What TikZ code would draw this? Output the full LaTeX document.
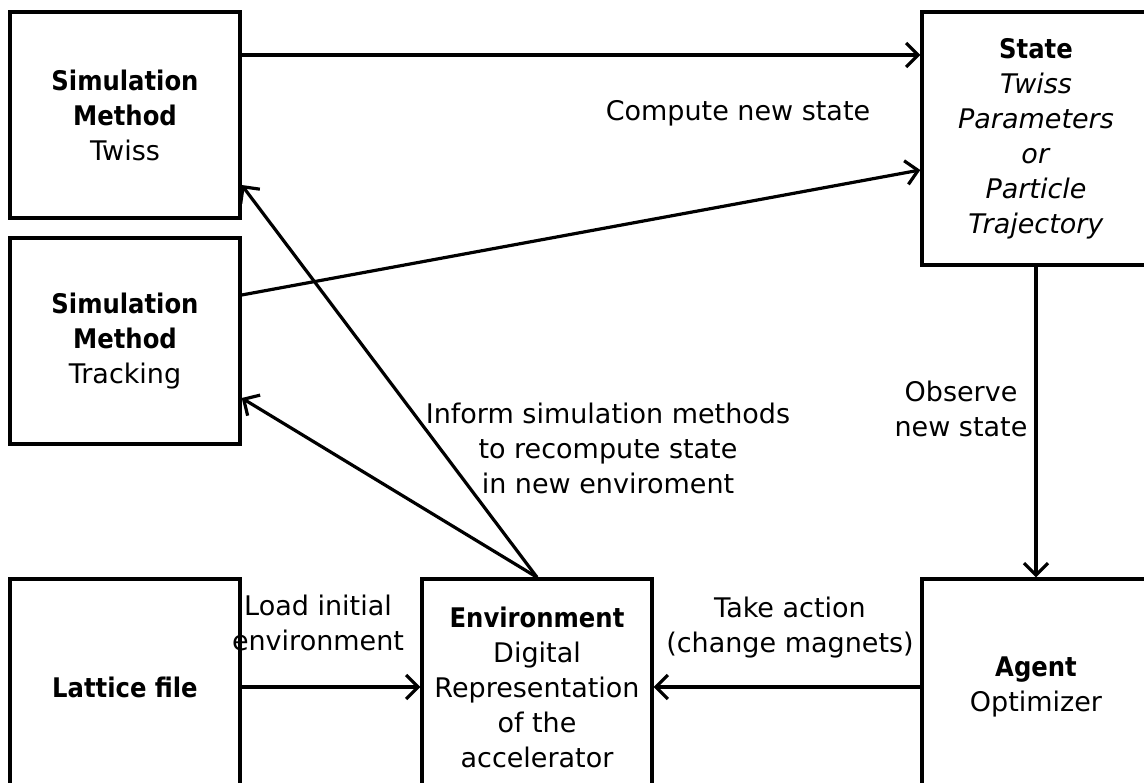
\documentclass[tikz,border=0pt]{standalone}
\usepackage{fontspec}
\setmainfont{DejaVu Sans}[BoldFont={DejaVu Sans Condensed Bold}]
\usetikzlibrary{arrows.meta}
\tikzset{
  block/.style={draw, line width=3.4pt, rectangle, align=center, inner sep=0pt},
  lbl/.style={align=center, inner sep=0pt},
  arr/.style={line width=3.2pt, -{Straight Barb[length=12pt,width=24pt,line width=3.2pt]}},
}
\begin{document}
\begin{tikzpicture}[x=1pt, y=-1pt, font=\fontsize{27}{35}\selectfont]
\useasboundingbox (0,0) rectangle (1144,783);
\fill[white] (0,0) rectangle (1144,783);

% boxes
\node[block, minimum width=230pt, minimum height=206pt] (twiss) at (125,115)
  {\textbf{Simulation}\\\textbf{Method}\\Twiss};
\node[block, minimum width=230pt, minimum height=206pt] (track) at (125,341)
  {\textbf{Simulation}\\\textbf{Method}\\Tracking};
\node[block, minimum width=228pt, minimum height=253pt] (state) at (1036,138.5)
  {\textbf{State}\\\textit{Twiss}\\\textit{Parameters}\\\textit{or}\\\textit{Particle}\\\textit{Trajectory}};
\node[block, minimum width=230pt, minimum height=216pt] (lattice) at (125,687)
  {\textbf{Lattice file}};
\node[block, minimum width=230pt, minimum height=216pt] (env) at (537,687)
  {\textbf{Environment}\\Digital\\Representation\\of the\\accelerator};
\node[block, minimum width=228pt, minimum height=216pt] (agent) at (1036,687)
  {\textbf{Agent}\\Optimizer};

% connectors
\draw[arr] ([yshift=60pt]twiss.east) -- ([yshift=83.5pt]state.west);
\draw[arr] ([yshift=46pt]track.east) -- ([yshift=-31.5pt]state.west);
\draw[arr] (env.north) -- ([yshift=-70pt]twiss.east);
\draw[arr] (env.north) -- ([yshift=-57pt]track.east);
\draw[arr] (state.south) -- (agent.north);
\draw[arr] (agent.west) -- (env.east);
\draw[arr] (lattice.east) -- (env.west);

% labels
\node[lbl] (lcompute) at (738,113) {Compute new state};
\node[lbl] (linform) at (608,448) {Inform simulation methods\\to recompute state\\in new enviroment};
\node[lbl] (lobserve) at (961,409) {Observe\\new state};
\node[lbl] (laction) at (790,628) {Take action\\(change magnets)};
\node[lbl] (lload) at (318,623) {Load initial\\environment};
\end{tikzpicture}
\end{document}
